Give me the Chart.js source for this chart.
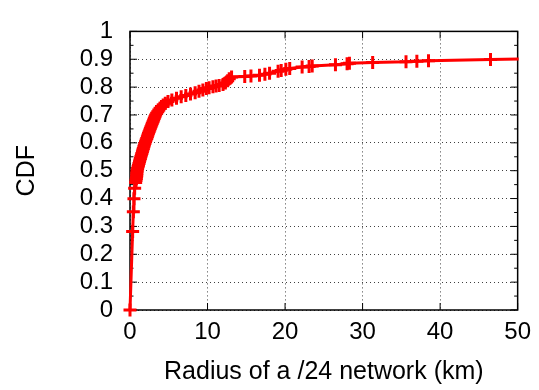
<!DOCTYPE html>
<html lang="en">
  <head>
    <meta charset="UTF-8" />
    <title>CDF of /24 radius</title>
    <script src="https://cdn.jsdelivr.net/npm/chart.js"></script>
    <style>
      body { margin: 0; background: #fff; }
    </style>
  </head>
  <body>
    <canvas id="myChart" width="539" height="390"></canvas>
    <script>
      // values
      const radiusKm = [0, 0.34, 0.43, 0.51, 0.6, 0.73, 0.78, 0.82, 0.85, 0.87, 0.88, 0.9, 0.93, 0.98,
        1.04, 1.1, 1.16, 1.22, 1.28, 1.34, 1.4, 1.47, 1.53, 1.6, 1.66, 1.72, 1.79, 1.85, 1.92,
        2.0, 2.08, 2.16, 2.24, 2.31, 2.39, 2.47, 2.55, 2.63, 2.71, 2.8, 2.88, 2.97,
        3.05, 3.14, 3.22, 3.31, 3.44, 3.58, 3.72, 3.88, 4.06, 4.28, 4.55, 4.9,
        5.4, 6.0, 6.6, 7.2, 7.8, 8.4, 8.9, 9.4, 9.85,
        10.2, 10.7, 11.1, 11.5, 12.0, 12.3, 12.6, 12.8, 13.1,
        14.8, 15.6, 16.7, 17.4, 18.0, 19.1, 19.5, 20.1, 20.6,
        22.2, 23.1, 23.5, 26.5, 28.0, 28.3, 31.3, 35.6, 37.0, 38.5, 46.5, 60];
      const cdf = [0, 0.282, 0.353, 0.399, 0.437, 0.458, 0.466, 0.472, 0.478, 0.484, 0.49, 0.496, 0.502, 0.508,
        0.514, 0.52, 0.526, 0.532, 0.538, 0.544, 0.55, 0.556, 0.562, 0.568, 0.574, 0.58, 0.586, 0.592, 0.598,
        0.604, 0.61, 0.616, 0.622, 0.628, 0.634, 0.64, 0.646, 0.652, 0.658, 0.664, 0.67, 0.676,
        0.682, 0.688, 0.694, 0.7, 0.706, 0.712, 0.718, 0.724, 0.73, 0.736, 0.742, 0.748,
        0.754, 0.76, 0.765, 0.77, 0.775, 0.78, 0.785, 0.79, 0.795,
        0.798, 0.801, 0.804, 0.806, 0.809, 0.815, 0.823, 0.83, 0.836,
        0.838, 0.84, 0.843, 0.846, 0.85, 0.857, 0.86, 0.864, 0.867,
        0.872, 0.874, 0.876, 0.88, 0.884, 0.886, 0.888, 0.891, 0.893, 0.895, 0.899, 0.905];

      const xTicks = [0, 10, 20, 30, 40, 50];
      const xTickLabels = ["0", "10", "20", "30", "40", "50"];
      const yTicks = [0, 0.1, 0.2, 0.3, 0.4, 0.5, 0.6, 0.7, 0.8, 0.9, 1];
      const yTickLabels = ["0", "0.1", "0.2", "0.3", "0.4", "0.5", "0.6", "0.7", "0.8", "0.9", "1"];
      const yMinorTicks = [0.05, 0.15, 0.25, 0.35, 0.45, 0.55, 0.65, 0.75, 0.85, 0.95];

      const font = { family: "'Liberation Sans', Arial, sans-serif", size: 24 };
      const titleFont = { family: "'Liberation Sans', Arial, sans-serif", size: 25 };

      // gnuplot style frame with inward tics
      const frame = {
        id: "frame",
        beforeDatasetsDraw(chart) {
          const { ctx, chartArea: a, scales } = chart;
          const x = scales.x, y = scales.y;
          ctx.save();
          ctx.strokeStyle = "#000";
          ctx.lineWidth = 1;
          ctx.beginPath();
          xTicks.forEach((v) => {
            const px = x.getPixelForValue(v);
            ctx.moveTo(px, a.bottom);
            ctx.lineTo(px, a.bottom - 7);
            ctx.moveTo(px, a.top);
            ctx.lineTo(px, a.top + 7);
          });
          yTicks.forEach((v) => {
            const py = y.getPixelForValue(v);
            ctx.moveTo(a.left, py);
            ctx.lineTo(a.left + 7, py);
            ctx.moveTo(a.right, py);
            ctx.lineTo(a.right - 7, py);
          });
          yMinorTicks.forEach((v) => {
            const py = y.getPixelForValue(v);
            ctx.moveTo(a.left, py);
            ctx.lineTo(a.left + 3.5, py);
            ctx.moveTo(a.right, py);
            ctx.lineTo(a.right - 3.5, py);
          });
          ctx.stroke();
          ctx.lineWidth = 1.5;
          ctx.strokeRect(a.left, a.top, a.right - a.left, a.bottom - a.top);
          ctx.restore();
        },
      };

      const ctx = document.getElementById("myChart").getContext("2d");
      const myChart = new Chart(ctx, {
        type: "line",
        data: {
          datasets: [
            {
              data: radiusKm.map((r, i) => ({ x: r, y: cdf[i] })),
              borderColor: "#ff0000",
              backgroundColor: "#ff0000",
              borderWidth: 3,
              pointStyle: "cross",
              pointRadius: 6.5,
              pointBorderWidth: 3,
              pointBorderColor: "#ff0000",
              tension: 0,
              clip: { left: 10, top: 10, right: 1, bottom: 10 },
            },
          ],
        },
        options: {
          responsive: false,
          animation: false,
          devicePixelRatio: 1,
          layout: { padding: { top: 15, right: 20, left: 0, bottom: 0 } },
          plugins: { legend: { display: false }, tooltip: { enabled: false } },
          scales: {
            x: {
              type: "linear",
              min: 0,
              max: 50,
              afterFit: (s) => { s.height = 80; },
              afterBuildTicks: (s) => { s.ticks = xTicks.map((v) => ({ value: v })); },
              ticks: {
                color: "#000",
                font: font,
                padding: 8,
                maxRotation: 0,
                autoSkip: false,
                callback: (v, i) => xTickLabels[i],
              },
              grid: { color: "rgba(0,0,0,0.75)", lineWidth: 1, drawTicks: false },
              border: { display: false, dash: [1, 3] },
              title: {
                display: true,
                text: "Radius of a /24 network (km)",
                color: "#000",
                font: titleFont,
                padding: { top: 0, bottom: 3 },
              },
            },
            y: {
              type: "linear",
              min: 0,
              max: 1,
              afterFit: (s) => { s.width = 130; },
              afterBuildTicks: (s) => { s.ticks = yTicks.map((v) => ({ value: v })); },
              ticks: {
                color: "#000",
                font: font,
                padding: 17,
                autoSkip: false,
                callback: (v, i) => yTickLabels[i],
              },
              grid: { color: "rgba(0,0,0,0.75)", lineWidth: 1, drawTicks: false },
              border: { display: false, dash: [1, 3] },
              title: {
                display: true,
                text: "CDF",
                color: "#000",
                font: titleFont,
                padding: { top: 12, bottom: 0 },
              },
            },
          },
        },
        plugins: [frame],
      });
    </script>
  </body>
</html>
